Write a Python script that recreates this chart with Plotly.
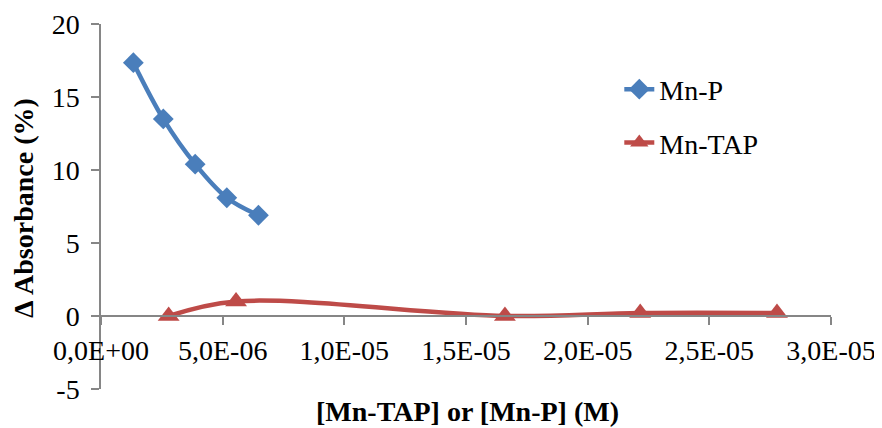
import plotly.graph_objects as go

# Data
mnp_x = [1.33e-6, 2.56e-6, 3.87e-6, 5.17e-6, 6.47e-6]
mnp_y = [17.35, 13.5, 10.4, 8.1, 6.9]
mntap_x = [2.78e-6, 5.55e-6, 1.66e-5, 2.216e-5, 2.778e-5]
mntap_y = [0.0, 1.0, 0.0, 0.2, 0.2]

x_tickvals = [0, 5e-6, 1e-5, 1.5e-5, 2e-5, 2.5e-5, 3e-5]
x_ticktext = ["0,0E+00", "5,0E-06", "1,0E-05", "1,5E-05", "2,0E-05", "2,5E-05", "3,0E-05"]
y_tickvals = [-5, 0, 5, 10, 15, 20]
y_ticktext = ["-5", "0", "5", "10", "15", "20"]

FONT = "Liberation Serif"
AXC = "#868686"

fig = go.Figure()
fig.add_trace(go.Scatter(
    x=mnp_x, y=mnp_y, name="Mn-P", mode="lines+markers",
    line=dict(color="#4A7EBB", width=4.5, shape="spline"),
    marker=dict(symbol="diamond", size=16, color="#4A7EBB"),
    legendgroup="a",
))
fig.add_trace(go.Scatter(
    x=mntap_x, y=mntap_y, name="Mn-TAP", mode="lines+markers",
    line=dict(color="#BE4B48", width=4.5, shape="spline"),
    marker=dict(symbol="triangle-up", size=19, color="#BE4B48"),
    legendgroup="b",
))

# page body has an 8px default margin, so the plot is shifted by -8px
fig.update_layout(
    width=882, height=428,
    margin=dict(l=93, r=59, t=16, b=47, autoexpand=False),
    paper_bgcolor="white", plot_bgcolor="white",
    font=dict(family=FONT, size=28, color="black"),
    showlegend=True,
    legend=dict(x=0.71, y=0.889, xanchor="left", yanchor="top",
                font=dict(family=FONT, size=28, color="black"),
                tracegroupgap=14, bgcolor="rgba(0,0,0,0)"),
    xaxis=dict(range=[0, 3e-5], tickvals=x_tickvals, ticktext=x_ticktext,
               anchor="free", position=0.2, showline=True, linecolor=AXC, linewidth=1.5,
               ticks="outside", ticklen=8, tickcolor=AXC, tickwidth=1.5,
               showgrid=False, zeroline=False, ticklabelstandoff=2, automargin=False,
               tickfont=dict(family=FONT, size=28, color="black")),
    yaxis=dict(range=[-5, 20], tickvals=y_tickvals, ticktext=y_ticktext,
               showline=True, linecolor=AXC, linewidth=1.5,
               ticks="outside", ticklen=8, tickcolor=AXC, tickwidth=1.5,
               showgrid=False, zeroline=False, ticklabelstandoff=6, automargin=False,
               tickfont=dict(family=FONT, size=28, color="black")),
    annotations=[
        dict(text="<b>Δ Absorbance (%)</b>", textangle=-90, xref="paper", yref="paper",
             x=(24 - 101) / 730, y=(389 - 208) / 365, xanchor="center", yanchor="middle",
             showarrow=False, font=dict(family=FONT, size=28, color="black")),
        dict(text="<b>[Mn-TAP] or [Mn-P] (M)</b>", xref="paper", yref="paper",
             x=(467 - 101) / 730, y=(389 - 411) / 365, xanchor="center", yanchor="middle",
             showarrow=False, font=dict(family=FONT, size=28, color="black")),
    ],
)

fig.write_html("out.html")
